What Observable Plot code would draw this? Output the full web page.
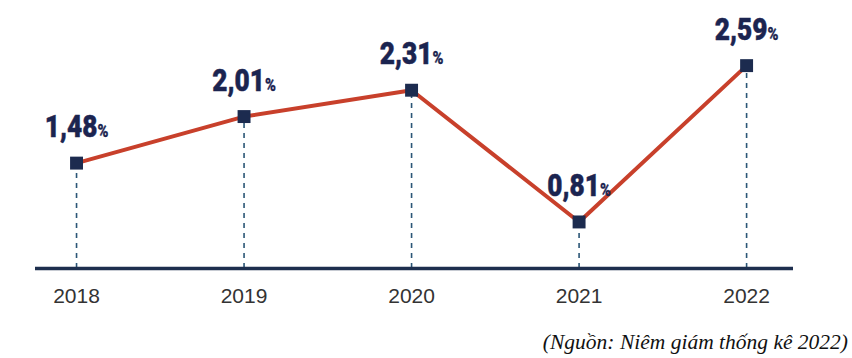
<!DOCTYPE html>
<html>
<head>
<meta charset="utf-8">
<script src="https://cdn.jsdelivr.net/npm/d3@7"></script>
<script src="https://cdn.jsdelivr.net/npm/@observablehq/plot@0.6"></script>
<style>
  html, body { margin: 0; padding: 0; background: #ffffff; }
  #chart svg { display: block; }
  #source {
    font-family: "Liberation Serif", "DejaVu Serif", serif;
    font-style: italic;
    font-size: 21.5px;
    line-height: 24px;
    color: #111111;
    text-align: right;
    padding-right: 4px;
    margin-top: 10px;
  }
</style>
</head>
<body>
<div id="chart"></div>
<div id="source"></div>
<script>
// Data
const years = [2018, 2019, 2020, 2021, 2022];
const values = [1.48, 2.01, 2.31, 0.81, 2.59];
const valueLabels = ["1,48%", "2,01%", "2,31%", "0,81%", "2,59%"];
const sourceText = "(Nguồn: Niêm giám thống kê 2022)";

const data = years.map((year, i) => ({year, value: values[i], label: valueLabels[i]}));

const yMin = 0.28, yMax = 2.99;

const chart = Plot.plot({
  width: 852,
  height: 320,
  marginTop: 30,
  marginBottom: 52,
  marginLeft: 35,
  marginRight: 59,
  x: {domain: [2017.755, 2022.28], axis: null},
  y: {domain: [yMin, yMax], axis: null},
  marks: [
    Plot.ruleX(data, {x: "year", y1: yMin, y2: "value", stroke: "#2b5676", strokeWidth: 1.6, strokeDasharray: "5,5"}),
    Plot.ruleY([yMin], {stroke: "#1e2f4e", strokeWidth: 3.5}),
    Plot.axisX({ticks: years, tickSize: 0, tickPadding: 20, label: null, tickFormat: d => String(d), fontSize: 21, fill: "#333333", fontFamily: "Liberation Sans, Arial, sans-serif"}),
    Plot.line(data, {x: "year", y: "value", stroke: "#c8402b", strokeWidth: 4}),
    Plot.dot(data, {x: "year", y: "value", symbol: "square", r: 7.3, fill: "#1c2b4f", stroke: "none"}),
    Plot.text(data, {x: "year", y: "value", text: "label", lineAnchor: "bottom", dy: -26, fontSize: 32, fontWeight: 900,
      fill: "#1b2450", stroke: "#1b2450", strokeWidth: 0.5,
      fontFamily: "Roboto, 'DejaVu Sans', sans-serif"})
  ]
});

// make the % sign smaller and condense the labels horizontally
const sx = 0.82;
d3.select(chart).selectAll("text").each(function() {
  const t = d3.select(this);
  const s = t.text();
  if (!s.endsWith("%")) return;
  const num = s.slice(0, -1);
  t.text(null);
  t.append("tspan").text(num);
  t.append("tspan").style("font-size", "18px").attr("stroke-width", 0.3).text("%");
  const x = this.getAttribute("x"), y = this.getAttribute("y");
  const tr = this.getAttribute("transform") || "";
  const pre = (x != null || y != null) ? ` translate(${x || 0},${y || 0})` : "";
  this.removeAttribute("x"); this.removeAttribute("y");
  this.setAttribute("transform", `${tr}${pre} scale(${sx},1)`);
});

document.getElementById("chart").appendChild(chart);
document.getElementById("source").textContent = sourceText;
</script>
</body>
</html>
